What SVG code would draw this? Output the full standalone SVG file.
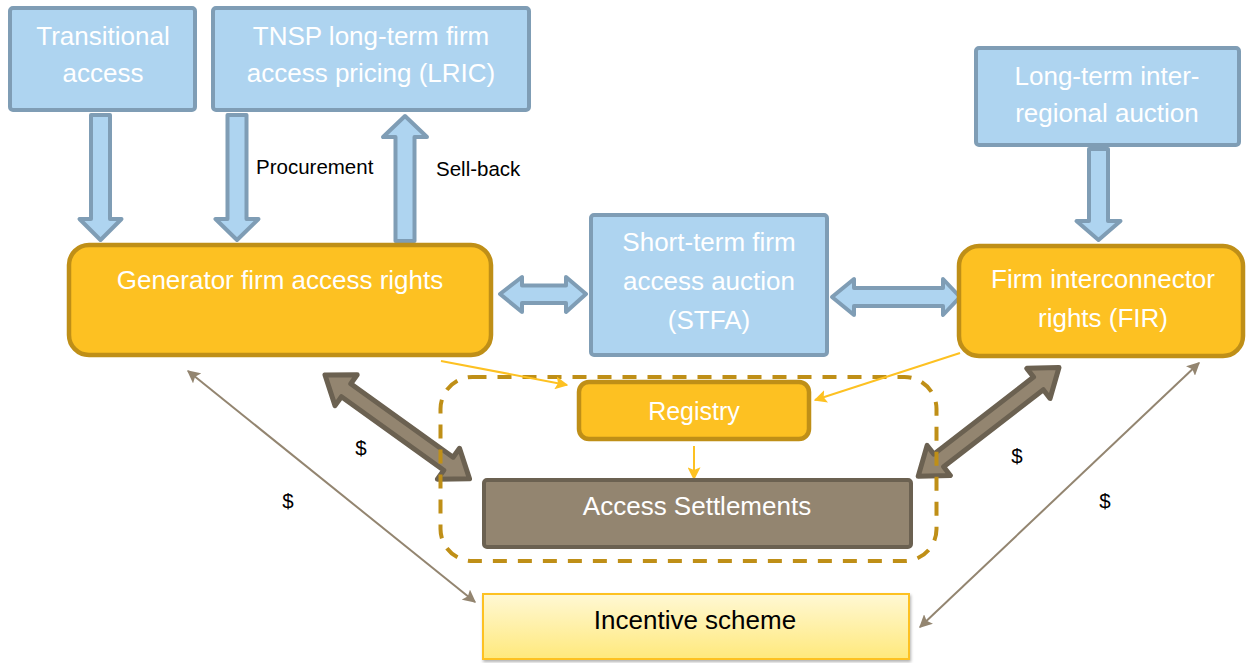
<svg xmlns="http://www.w3.org/2000/svg" width="1247" height="663" viewBox="0 0 1247 663">
<defs>
<style>
.blue{fill:#aed4f0;stroke:#7f9db5;stroke-width:4}
.yel{fill:#fdc122;stroke:#bf8f17;stroke-width:4.5}
.brn{fill:#938570;stroke:#6b6151;stroke-width:4}
.barrow{fill:#aed4f0;stroke:#7f9db5;stroke-width:4;stroke-linejoin:round}
.tarrow{fill:#938570;stroke:#6b6151;stroke-width:5;stroke-linejoin:round}
.wt{font-family:"Liberation Sans",Arial,sans-serif;font-size:26px;fill:#ffffff;text-anchor:middle}
.bt{font-family:"Liberation Sans",Arial,sans-serif;font-size:20.5px;fill:#000000}
.thin{stroke:#938570;stroke-width:2;fill:none}
.ythin{stroke:#fdc122;stroke-width:2;fill:none}
</style>
<marker id="bh" viewBox="0 0 10 10" refX="9" refY="5" markerWidth="13" markerHeight="13" markerUnits="userSpaceOnUse" orient="auto-start-reverse"><path d="M0,0 L10,5 L0,10 L2,5 z" fill="#938570"/></marker>
<marker id="yh" viewBox="0 0 10 10" refX="9" refY="5" markerWidth="13" markerHeight="13" markerUnits="userSpaceOnUse" orient="auto"><path d="M0,0 L10,5 L0,10 L2,5 z" fill="#fdc122"/></marker>
<linearGradient id="ig" x1="0" y1="0" x2="0" y2="1"><stop offset="0" stop-color="#fff8d4"/><stop offset="1" stop-color="#ffe97c"/></linearGradient>
<filter id="sh" x="-5%" y="-10%" width="110%" height="130%"><feDropShadow dx="1" dy="2" stdDeviation="1.5" flood-color="#000" flood-opacity="0.3"/></filter>
</defs>

<g id="connectors">
<path class="barrow" d="M91,115 L110,115 L110,219 L121.5,219 L100.5,240 L79.5,219 L91,219 Z"/>
<path class="barrow" d="M227.5,115 L246.5,115 L246.5,219 L258.5,219 L237,240 L215.5,219 L227.5,219 Z"/>
<path class="barrow" d="M395.5,241 L414.5,241 L414.5,137 L427,137 L405,116 L383,137 L395.5,137 Z"/>
<path class="barrow" d="M1089,149 L1108,149 L1108,221 L1120.5,221 L1098.5,240 L1076.5,221 L1089,221 Z"/>
<path class="barrow" d="M500,294 L522,277 L522,285.5 L566,285.5 L566,277 L586,294 L566,312 L566,303 L522,303 L522,312 Z"/>
<path class="barrow" d="M832,297 L854,279 L854,288 L943,288 L943,279 L960,297 L943,315 L943,306 L854,306 L854,315 Z"/>
<g transform="translate(325,375) rotate(35.7)"><path class="tarrow" d="M0,0 L26,-19 L26,-8 L152,-8 L152,-19 L178,0 L152,19 L152,8 L26,8 L26,19 Z"/></g>
<g transform="translate(1059,367.5) rotate(142.3)"><path class="tarrow" d="M0,0 L26,-19 L26,-8 L152,-8 L152,-19 L178,0 L152,19 L152,8 L26,8 L26,19 Z"/></g>
<line class="thin" x1="188" y1="371" x2="475" y2="602" marker-start="url(#bh)" marker-end="url(#bh)"/>
<line class="thin" x1="1199" y1="363" x2="920" y2="627" marker-start="url(#bh)" marker-end="url(#bh)"/>
<text class="bt" x="256" y="174">Procurement</text>
<text class="bt" x="436" y="176">Sell-back</text>
<text class="bt" x="361" y="455" text-anchor="middle">$</text>
<text class="bt" x="288" y="508" text-anchor="middle">$</text>
<text class="bt" x="1017" y="463" text-anchor="middle">$</text>
<text class="bt" x="1105" y="508" text-anchor="middle">$</text>
</g>

<g id="group-box">
<rect x="440.5" y="377" width="496" height="184" rx="32" fill="none" stroke="#bf8f17" stroke-width="4" stroke-dasharray="14 11"/>
</g>

<g id="registry-links">
<line class="ythin" x1="441" y1="361" x2="567" y2="385" marker-end="url(#yh)"/>
<line class="ythin" x1="960" y1="353" x2="815" y2="400" marker-end="url(#yh)"/>
<line class="ythin" x1="694" y1="446" x2="694" y2="479" marker-end="url(#yh)"/>
</g>

<g id="transitional">
<rect class="blue" x="10" y="8" width="185" height="102" rx="3"/>
<text class="wt" x="103" y="45">Transitional</text>
<text class="wt" x="103" y="82">access</text>
</g>
<g id="tnsp">
<rect class="blue" x="213" y="8" width="316" height="102" rx="3"/>
<text class="wt" x="371" y="45">TNSP long-term firm</text>
<text class="wt" x="371" y="82">access pricing (LRIC)</text>
</g>
<g id="longterm">
<rect class="blue" x="976" y="48" width="263" height="97" rx="3"/>
<text class="wt" x="1107" y="85">Long-term inter-</text>
<text class="wt" x="1107" y="122">regional auction</text>
</g>
<g id="generator">
<rect class="yel" x="69" y="245" width="422" height="110" rx="20"/>
<text class="wt" x="280" y="289">Generator firm access rights</text>
</g>
<g id="stfa">
<rect class="blue" x="591" y="215" width="236" height="140" rx="3"/>
<text class="wt" x="709" y="251">Short-term firm</text>
<text class="wt" x="709" y="290">access auction</text>
<text class="wt" x="709" y="329">(STFA)</text>
</g>
<g id="fir">
<rect class="yel" x="959" y="246" width="284" height="110" rx="20"/>
<text class="wt" x="1103" y="288">Firm interconnector</text>
<text class="wt" x="1103" y="327">rights (FIR)</text>
</g>
<g id="registry">
<rect class="yel" x="579" y="382" width="230" height="57" rx="10"/>
<text class="wt" x="694" y="420" style="font-size:25px">Registry</text>
</g>
<g id="settlements">
<rect class="brn" x="484" y="480" width="427" height="67" rx="3"/>
<text class="wt" x="697" y="515">Access Settlements</text>
</g>
<g id="incentive">
<rect x="483" y="594" width="426" height="65" fill="url(#ig)" stroke="#fdc122" stroke-width="2" filter="url(#sh)"/>
<text class="wt" x="695" y="629" style="fill:#000000">Incentive scheme</text>
</g>
</svg>
